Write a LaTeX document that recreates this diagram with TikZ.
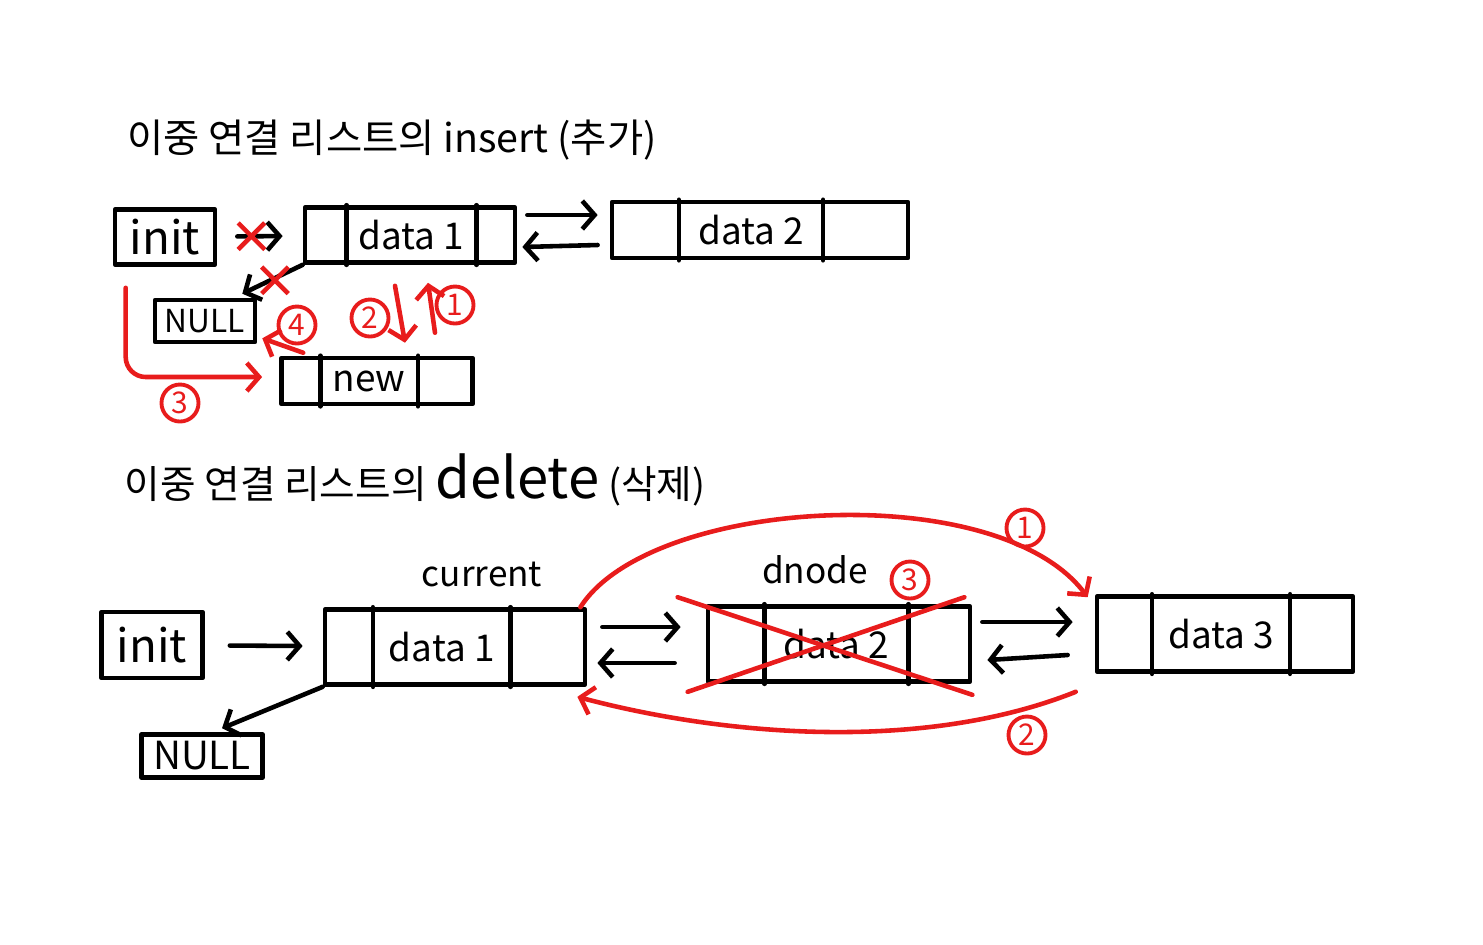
\documentclass[tikz,border=0pt]{standalone}
\usepackage{fontspec}
\setmainfont{Noto Sans CJK KR}
\usetikzlibrary{arrows.meta,positioning,calc,shapes.misc}
\definecolor{penred}{RGB}{232,28,28}
\tikzset{
  pen/.style={line width=1.3pt, line cap=round, line join=round},
  cell/.style={pen, draw, inner sep=0pt},
  celltext/.style={font=\fontsize{10.5}{12}\selectfont},
  arr/.style={pen, -{Straight Barb[length=3.5pt,width=8pt]}},
  redarr/.style={arr, draw=penred},
  num/.style={circle, draw=penred, text=penred, line width=1.1pt, inner sep=0.5pt,
    minimum size=0.37cm, font=\fontsize{8.5}{9}\selectfont},
  cut/.style={cross out, draw=penred, line width=1.3pt, minimum size=0.22cm, inner sep=0pt},
}

\begin{document}
\begin{tikzpicture}[x=0.01cm, y=-0.01cm]
    \useasboundingbox (0,0) rectangle (1483,944);

    % insert
    \node[font=\fontsize{11.2}{13}\selectfont] (title1) at (392,140) {이중 연결 리스트의 insert (추가)};

    \node[cell, minimum width=1cm, minimum height=0.55cm, font=\fontsize{13}{15}\selectfont] (ti) at (165,237) {init};
    \node[cell, minimum width=2.1cm, minimum height=0.55cm] (td1) at (410,235) {};
    \node[cell, minimum width=2.96cm, minimum height=0.56cm] (td2) at (760,230) {};
    \node[cell, minimum width=1cm, minimum height=0.42cm, font=\fontsize{9}{11}\selectfont] (tnull) at (205,321) {NULL};
    \node[cell, minimum width=1.91cm, minimum height=0.46cm] (tnew) at (377,381) {};

    \draw[arr, shorten <=0.2cm, shorten >=0.2cm] (ti) -- (td1);
    \node[cut] (x1) at ($(ti.east)!0.4!(td1.west)$) {};
    \draw[arr] ($(td1.east)+(10,-20)$) -- ($(td2.west)+(-12,-15)$);
    \draw[arr] ($(td2.west)+(-12,15)$) -- ($(td1.east)+(5,12)$);
    \draw[arr] (td1.south west) -- ($(tnull.north east)+(-15,-4)$);
    \node[cut] (x2) at ($(td1.south west)!0.5!(tnull.north east)+(-5,-1)$) {};

    % new node links
    \draw[redarr] ($(td1.south)+(-15,21)$) -- ($(tnew.north)+(28,-13)$);
    \draw[redarr] ($(tnew.north)+(58,-23)$) -- ($(td1.south)+(18,18)$);
    \draw[redarr, rounded corners=0.2cm] ($(ti.south west)+(13,21)$) |- ($(tnew.west)+(-17,-4)$);
    \draw[redarr] ($(tnew.north west)+(24,-3)$) -- ($(tnull.south east)+(5,-6)$);
    \node[num] (n1) at (455,305) {1};
    \node[num] (n2) at (370,318) {2};
    \node[num] (n3) at (180,403) {3};
    \node[num] (n4) at (297,325) {4};

    % delete
    \node[font=\fontsize{11}{13}\selectfont] (title2) at (415,480) {이중 연결 리스트의 {\fontsize{16}{18}\selectfont delete} (삭제)};

    \node[cell, minimum width=1.01cm, minimum height=0.66cm, font=\fontsize{13}{15}\selectfont] (bi) at (152,645) {init};
    \node[cell, minimum width=2.6cm, minimum height=0.75cm] (bd1) at (455,647) {};
    \node[cell, minimum width=2.62cm, minimum height=0.75cm] (bd2) at (839,644) {};
    \node[cell, minimum width=2.56cm, minimum height=0.75cm] (bd3) at (1225,634) {};
    \node[cell, minimum width=1.21cm, minimum height=0.43cm, font=\fontsize{11}{13}\selectfont] (bnull) at (202,756) {NULL};
    \node[font=\fontsize{10}{12}\selectfont] (cur) at (482,574) {current};
    \node[font=\fontsize{10}{12}\selectfont] (dn) at (815,570) {dnode};

    \draw[arr, shorten <=0.25cm, shorten >=0.2cm] (bi) -- (bd1);
    \draw[arr] (bd1.south west) -- ($(bnull.north)+(20,-4)$);
    \draw[arr] ($(bd1.east)+(15,-20)$) -- ($(bd2.west)+(-25,-17)$);
    \draw[arr] ($(bd2.west)+(-31,19)$) -- ($(bd1.east)+(10,16)$);
    \draw[arr] ($(bd2.east)+(10,-22)$) -- ($(bd3.west)+(-22,-12)$);
    \draw[arr] ($(bd3.west)+(-27,21)$) -- ($(bd2.east)+(15,16)$);

    % cell dividers and texts
    \foreach \n/\a/\b/\t in {td1/0.205/0.81/data 1, td2/0.23/0.71/data 2, tnew/0.21/0.71/new,
        bd1/0.19/0.71/data 1, bd2/0.22/0.76/data 2, bd3/0.22/0.75/data 3} {
      \draw[pen] ($(\n.north west)!\a!(\n.north east)$) -- ($(\n.south west)!\a!(\n.south east)$);
      \draw[pen] ($(\n.north west)!\b!(\n.north east)$) -- ($(\n.south west)!\b!(\n.south east)$);
      \node[celltext] (\n-txt) at ($(\n.west)!{(\a+\b)/2}!(\n.east)$) {\t};
    }

    % removing dnode
    \draw[pen, draw=penred] ($(bd2.north west)+(-28,-7)$) -- ($(bd2.south east)+(0,11)$);
    \draw[pen, draw=penred] ($(bd2.south west)+(-18,8)$) -- ($(bd2.north east)+(-8,-7)$);
    \draw[redarr] ($(bd1.north east)+(-7,0)$) .. controls +(70,-110) and +(-90,-120) .. ($(bd3.north west)+(-7,3)$);
    \draw[redarr] ($(bd3.south west)+(-19,18)$) .. controls +(-150,60) and +(150,40) .. ($(bd1.south east)+(-10,10)$);
    \node[num] (m1) at (1025,528) {1};
    \node[num] (m2) at (1027,735) {2};
    \node[num] (m3) at (910,580) {3};
\end{tikzpicture}
\end{document}
